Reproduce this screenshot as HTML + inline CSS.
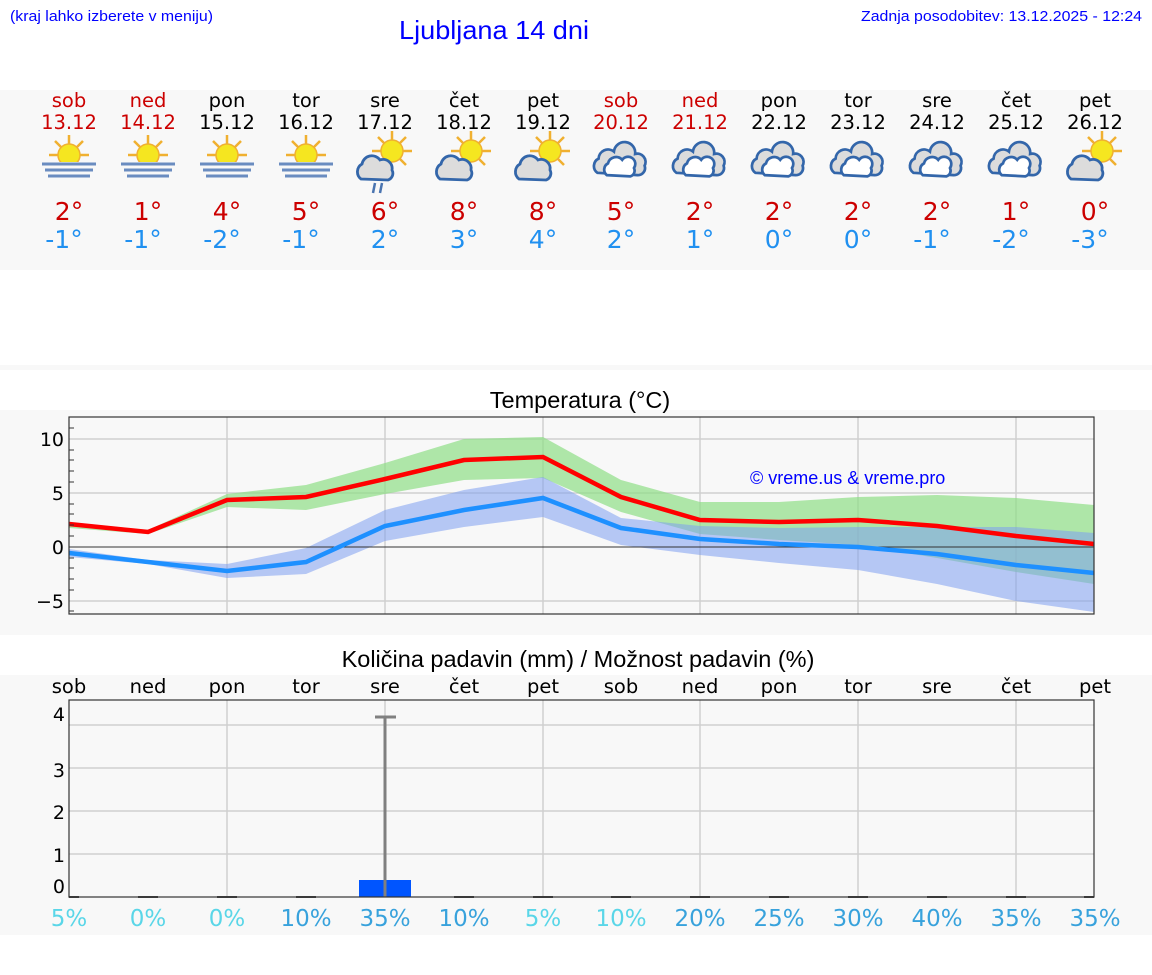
<!DOCTYPE html>
<html><head><meta charset="utf-8"><style>
html,body{margin:0;padding:0;background:#fff;}
svg{display:block;}
.d{font-family:"DejaVu Sans",sans-serif;font-size:19.5px;text-anchor:middle;}
.t{font-family:"DejaVu Sans",sans-serif;font-size:25px;text-anchor:middle;}
.p{font-family:"DejaVu Sans",sans-serif;font-size:23px;text-anchor:middle;}
</style></head><body>
<svg width="1152" height="975" viewBox="0 0 1152 975" xmlns="http://www.w3.org/2000/svg">
<defs>
<symbol id="sun" viewBox="-20 -20 40 40" overflow="visible">
 <g stroke="#f0b030" stroke-width="2.5" fill="#f5e620">
  <path d="M0-11L0-20 M8-8L14-14 M-8-8L-14-14 M11 0L20 0 M-11 0L-20 0 M8 8L14 14 M-8 8L-14 14"/>
  <circle r="11" stroke-width="1.5"/>
 </g>
</symbol>
<symbol id="cl" viewBox="-20 -20 40 40" overflow="visible">
 <path d="M-15 11 A9 9 0 0 1 -14 -4 A10 10 0 0 1 4 -8 A9 9 0 0 1 16 2 A7 7 0 0 1 12 12 Z" fill="#dcdcdc" stroke="#3366aa" stroke-width="2.8"/>
</symbol>
<symbol id="cc" viewBox="-28 -20 56 40" overflow="visible">
 <g transform="scale(1.18)">
 <path d="M-20 10 A7 7 0 0 1 -19 -2 A8 8 0 0 1 -6 -8 A9 9 0 0 1 12 -6 A7 7 0 0 1 20 4 A6 6 0 0 1 14 12 Z" fill="#dcdcdc" stroke="#3366aa" stroke-width="2.3"/>
 <path d="M-12 12 A6 6 0 0 1 -11 2 A7 7 0 0 1 1 -1 A6 6 0 0 1 11 6 A5 5 0 0 1 8 13 Z" fill="#fff" stroke="#3366aa" stroke-width="2.3"/>
 </g>
</symbol>
<symbol id="fog" viewBox="-30 -20 60 40" overflow="visible">
 <use href="#sun" x="-20" y="-25" width="40" height="40"/>
 <rect x="-27" y="2" width="54" height="20" fill="#f8f8f8"/>
 <g stroke="#6a8cc0" stroke-width="3"><path d="M-27 4H27 M-24 10H24 M-21 16H21"/></g>
</symbol>
<symbol id="sc" viewBox="-30 -20 60 40" overflow="visible">
 <use href="#sun" x="-13" y="-29" width="40" height="40"/>
 <use href="#cl" x="-29" y="-12" width="40" height="40"/>
</symbol>
</defs>
<text x="10" y="21" fill="#0000ff" font-family="Liberation Sans,sans-serif" font-size="15" textLength="203" lengthAdjust="spacingAndGlyphs">(kraj lahko izberete v meniju)</text>
<text x="399" y="39" fill="#0000ff" font-family="Liberation Sans,sans-serif" font-size="26" textLength="190" lengthAdjust="spacingAndGlyphs">Ljubljana 14 dni</text>
<text x="861" y="21" fill="#0000ff" font-family="Liberation Sans,sans-serif" font-size="15" textLength="281" lengthAdjust="spacingAndGlyphs">Zadnja posodobitev: 13.12.2025 - 12:24</text>
<rect x="0" y="90" width="1152" height="180" fill="#f8f8f8"/>
<rect x="0" y="365" width="1152" height="5" fill="#f8f8f8"/>
<g class="d">
<g fill="#cc0000"><text x="69" y="107">sob</text><text x="69" y="129">13.12</text><text x="148" y="107">ned</text><text x="148" y="129">14.12</text><text x="621" y="107">sob</text><text x="621" y="129">20.12</text><text x="700" y="107">ned</text><text x="700" y="129">21.12</text></g>
<g fill="#000"><text x="227" y="107">pon</text><text x="227" y="129">15.12</text><text x="306" y="107">tor</text><text x="306" y="129">16.12</text><text x="385" y="107">sre</text><text x="385" y="129">17.12</text><text x="464" y="107">čet</text><text x="464" y="129">18.12</text><text x="543" y="107">pet</text><text x="543" y="129">19.12</text><text x="779" y="107">pon</text><text x="779" y="129">22.12</text><text x="858" y="107">tor</text><text x="858" y="129">23.12</text><text x="937" y="107">sre</text><text x="937" y="129">24.12</text><text x="1016" y="107">čet</text><text x="1016" y="129">25.12</text><text x="1095" y="107">pet</text><text x="1095" y="129">26.12</text></g>
</g>
<use href="#fog" x="39" y="140" width="60" height="40"/>
<use href="#fog" x="118" y="140" width="60" height="40"/>
<use href="#fog" x="197" y="140" width="60" height="40"/>
<use href="#fog" x="276" y="140" width="60" height="40"/>
<use href="#sc" x="355" y="140" width="60" height="40"/>
<path d="M373 193L375 183 M380 193L382 183" stroke="#4a74b0" stroke-width="2.5"/>
<use href="#sc" x="434" y="140" width="60" height="40"/>
<use href="#sc" x="513" y="140" width="60" height="40"/>
<use href="#cc" x="593" y="141" width="56" height="40"/>
<use href="#cc" x="672" y="141" width="56" height="40"/>
<use href="#cc" x="751" y="141" width="56" height="40"/>
<use href="#cc" x="830" y="141" width="56" height="40"/>
<use href="#cc" x="909" y="141" width="56" height="40"/>
<use href="#cc" x="988" y="141" width="56" height="40"/>
<use href="#sc" x="1065" y="140" width="60" height="40"/>
<g class="t" fill="#cc0000"><text x="69" y="220">2°</text><text x="148" y="220">1°</text><text x="227" y="220">4°</text><text x="306" y="220">5°</text><text x="385" y="220">6°</text><text x="464" y="220">8°</text><text x="543" y="220">8°</text><text x="621" y="220">5°</text><text x="700" y="220">2°</text><text x="779" y="220">2°</text><text x="858" y="220">2°</text><text x="937" y="220">2°</text><text x="1016" y="220">1°</text><text x="1095" y="220">0°</text></g>
<g class="t" fill="#2090f0"><text x="64" y="248">-1°</text><text x="143" y="248">-1°</text><text x="222" y="248">-2°</text><text x="301" y="248">-1°</text><text x="385" y="248">2°</text><text x="464" y="248">3°</text><text x="543" y="248">4°</text><text x="621" y="248">2°</text><text x="700" y="248">1°</text><text x="779" y="248">0°</text><text x="858" y="248">0°</text><text x="932" y="248">-1°</text><text x="1011" y="248">-2°</text><text x="1090" y="248">-3°</text></g>
<rect x="0" y="410" width="1152" height="225" fill="#f8f8f8"/>
<text x="580" y="408" text-anchor="middle" font-family="Liberation Sans,sans-serif" font-size="23.5">Temperatura (°C)</text>
<g stroke="#d0d0d0" stroke-width="1.5">
<path d="M227 417V614 M385 417V614 M543 417V614 M700 417V614 M858 417V614 M1016 417V614"/>
<path d="M69 439H1094 M69 493H1094 M69 601H1094"/>
</g>
<path d="M69 522L148 530L227 494L306 485L385 463L464 439L543 437L621 480L700 502L779 502L858 497L937 495L1016 498L1094 505L1094 584L1016 572L937 558L858 545L779 540L700 534L621 512L543 478L464 480L385 494L306 510L227 507L148 534L69 528Z" fill="#8ede86" opacity="0.7"/>
<path d="M69 549L148 560L227 564L306 548L385 510L464 490L543 477L621 518L700 526L779 528L858 527L937 527L1016 527L1094 533L1094 612L1016 601L937 584L858 570L779 563L700 555L621 545L543 517L464 527L385 541L306 574L227 578L148 564L69 557Z" fill="#7d9ff0" opacity="0.55"/>
<path d="M69 547H1094" stroke="#333" stroke-width="1"/>
<polyline points="69,553 148,562 227,571 306,562 385,526 464,510 543,498 621,528 700,539 779,544 858,547 937,554 1016,565 1094,573" fill="none" stroke="#1e90ff" stroke-width="4.5"/>
<polyline points="69,524 148,532 227,500 306,497 385,479 464,460 543,457 621,497 700,520 779,522 858,520 937,526 1016,536 1094,544" fill="none" stroke="#ff0000" stroke-width="4.5"/>
<rect x="69" y="417" width="1025" height="197" fill="none" stroke="#333" stroke-width="1.2"/>
<g stroke="#333"><path d="M69 428h5M69 450h5M69 460h5M69 471h5M69 482h5M69 504h5M69 514h5M69 525h5M69 536h5M69 558h5M69 568h5M69 579h5M69 590h5M69 611h5"/></g>
<g font-family="DejaVu Sans,sans-serif" font-size="19" text-anchor="end"><text x="64" y="446">10</text><text x="64" y="500">5</text><text x="64" y="554">0</text><text x="64" y="608">−5</text></g>
<text x="750" y="484" fill="#0000ff" font-family="Liberation Sans,sans-serif" font-size="18">© vreme.us &amp; vreme.pro</text>
<rect x="0" y="675" width="1152" height="260" fill="#f8f8f8"/>
<text x="578" y="667" text-anchor="middle" font-family="Liberation Sans,sans-serif" font-size="23.5">Količina padavin (mm) / Možnost padavin (%)</text>
<g class="d" fill="#000"><text x="69" y="693">sob</text><text x="148" y="693">ned</text><text x="227" y="693">pon</text><text x="306" y="693">tor</text><text x="385" y="693">sre</text><text x="464" y="693">čet</text><text x="543" y="693">pet</text><text x="621" y="693">sob</text><text x="700" y="693">ned</text><text x="779" y="693">pon</text><text x="858" y="693">tor</text><text x="937" y="693">sre</text><text x="1016" y="693">čet</text><text x="1095" y="693">pet</text></g>
<g stroke="#d0d0d0" stroke-width="1.5">
<path d="M227 700V897 M385 700V897 M543 700V897 M700 700V897 M858 700V897 M1016 700V897"/>
<path d="M69 725H1094 M69 768H1094 M69 811H1094 M69 854H1094"/>
</g>
<rect x="359" y="880" width="52" height="17" fill="#0055ff"/>
<path d="M385 717V897 M375 717H396" stroke="#808080" stroke-width="3"/>
<g stroke="#444" stroke-width="2"><path d="M138 897h20M217 897h20M296 897h20M454 897h20M533 897h20M611 897h20M690 897h20M769 897h20M848 897h20M927 897h20M1006 897h20M69 897h10M1084 897h10"/></g>
<rect x="69" y="700" width="1025" height="197" fill="none" stroke="#333" stroke-width="1.2"/>
<g font-family="DejaVu Sans,sans-serif" font-size="19" text-anchor="end"><text x="65" y="721">4</text><text x="65" y="777">3</text><text x="65" y="819">2</text><text x="65" y="862">1</text><text x="65" y="893">0</text></g>
<g class="p">
<text x="69" y="926" fill="#5ad6e8">5%</text><text x="148" y="926" fill="#5ad6e8">0%</text><text x="227" y="926" fill="#5ad6e8">0%</text>
<text x="306" y="926" fill="#38a2dc">10%</text><text x="385" y="926" fill="#38a2dc">35%</text><text x="464" y="926" fill="#38a2dc">10%</text>
<text x="543" y="926" fill="#5ad6e8">5%</text><text x="621" y="926" fill="#5ad6e8">10%</text>
<text x="700" y="926" fill="#38a2dc">20%</text><text x="779" y="926" fill="#38a2dc">25%</text><text x="858" y="926" fill="#38a2dc">30%</text><text x="937" y="926" fill="#38a2dc">40%</text><text x="1016" y="926" fill="#38a2dc">35%</text><text x="1095" y="926" fill="#38a2dc">35%</text>
</g>
</svg>
</body></html>
